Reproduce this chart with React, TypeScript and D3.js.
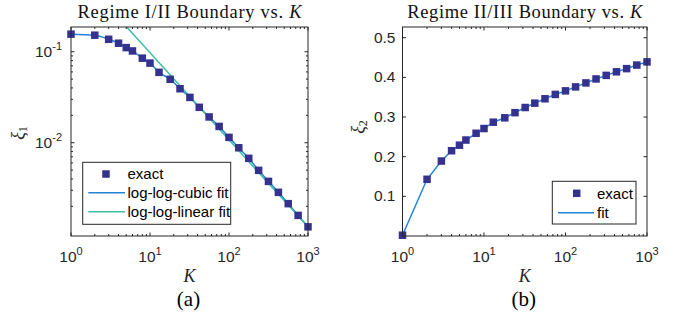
import React from "react";
import * as d3 from "d3";

// K values shared by both panels
const kValues = [1, 2, 3, 4, 5, 6, 8, 10, 13, 18, 24, 32, 42, 56, 75, 100, 133, 178, 237, 316, 422, 562, 750, 1000];

// Regime I/II boundary (xi_1), log-log
const xi1Exact = [0.156, 0.152, 0.137, 0.124, 0.111, 0.102, 0.085, 0.075, 0.0594, 0.0498, 0.0392, 0.0315, 0.0245, 0.0192, 0.0151, 0.01145, 0.0088, 0.00674, 0.00497, 0.00376, 0.00285, 0.00214, 0.00159, 0.00119];
// log-log-linear fit: straight line end points
const linFitK = [5.07, 1000];
const linFitXi = [0.187, 0.00119];

// Regime II/III boundary (xi_2)
const xi2Exact = [0.002, 0.143, 0.189, 0.215, 0.229, 0.242, 0.259, 0.271, 0.287, 0.298, 0.311, 0.324, 0.335, 0.346, 0.357, 0.366, 0.376, 0.386, 0.396, 0.405, 0.414, 0.422, 0.431, 0.439];

const xTicks = [1, 10, 100, 1000];
const xTickExp = ["0", "1", "2", "3"];
const y1Ticks = [0.1, 0.01];
const y1TickExp = ["-1", "-2"];
const y2Ticks = [0.1, 0.2, 0.3, 0.4, 0.5];

const MARKER = "#35318f";
const BLUE = "#2483d6";
const GREEN = "#3dbfa5";
const AXIS = "#262626";
const SANS = "'Liberation Sans', Arial, sans-serif";
const SERIF = "'Liberation Serif', 'Times New Roman', serif";

const minorLog = (lo: number, hi: number) => {
  const out: number[] = [];
  for (let e = Math.floor(Math.log10(lo)); e <= Math.ceil(Math.log10(hi)); e++) {
    for (let m = 2; m <= 9; m++) {
      const v = m * Math.pow(10, e);
      if (v > lo && v < hi) out.push(v);
    }
  }
  return out;
};

type Box = { x0: number; x1: number; y0: number; y1: number };

function Frame({ box, x, y, xMinor, yMajor, yMinor }: any) {
  const tl = 3.5;
  const tm = 2;
  return (
    <g stroke={AXIS} strokeWidth={1} fill="none">
      <rect x={box.x0} y={box.y0} width={box.x1 - box.x0} height={box.y1 - box.y0} />
      {xTicks.map((t) => (
        <g key={"xt" + t}>
          <line x1={x(t)} x2={x(t)} y1={box.y1} y2={box.y1 - tl} />
          <line x1={x(t)} x2={x(t)} y1={box.y0} y2={box.y0 + tl} />
        </g>
      ))}
      {xMinor.map((t: number) => (
        <g key={"xm" + t}>
          <line x1={x(t)} x2={x(t)} y1={box.y1} y2={box.y1 - tm} />
          <line x1={x(t)} x2={x(t)} y1={box.y0} y2={box.y0 + tm} />
        </g>
      ))}
      {yMajor.map((t: number) => (
        <g key={"yt" + t}>
          <line x1={box.x0} x2={box.x0 + tl} y1={y(t)} y2={y(t)} />
          <line x1={box.x1} x2={box.x1 - tl} y1={y(t)} y2={y(t)} />
        </g>
      ))}
      {yMinor.map((t: number) => (
        <g key={"ym" + t}>
          <line x1={box.x0} x2={box.x0 + tm} y1={y(t)} y2={y(t)} />
          <line x1={box.x1} x2={box.x1 - tm} y1={y(t)} y2={y(t)} />
        </g>
      ))}
    </g>
  );
}

function XLabels({ box, x, letter }: any) {
  const cx = (box.x0 + box.x1) / 2;
  return (
    <g>
      {xTicks.map((t, i) => (
        <text key={t} x={x(t)} y={262} textAnchor="middle" fontFamily={SANS} fontSize={15.5} fill={AXIS}>
          10<tspan dy={-7} fontSize={11}>{xTickExp[i]}</tspan>
        </text>
      ))}
      <text x={cx} y={282} textAnchor="middle" fontFamily={SERIF} fontStyle="italic" fontSize={18} fill={AXIS}>K</text>
      <text x={cx - 1} y={306} textAnchor="middle" fontFamily={SERIF} fontSize={21} fill="#000">({letter})</text>
    </g>
  );
}

function Markers({ xs, ys }: { xs: number[]; ys: number[] }) {
  const s = 7.5;
  return (
    <g fill={MARKER}>
      {xs.map((px, i) => (
        <rect key={i} x={px - s / 2} y={ys[i] - s / 2} width={s} height={s} />
      ))}
    </g>
  );
}

export default function App() {
  const boxA: Box = { x0: 71, x1: 308, y0: 27, y1: 236 };
  const boxB: Box = { x0: 402.5, x1: 647, y0: 27, y1: 236 };

  const xA = d3.scaleLog().domain([1, 1000]).range([boxA.x0, boxA.x1]);
  const yA = d3.scaleLog().domain([0.000944, 0.187]).range([boxA.y1, boxA.y0]);
  const xB = d3.scaleLog().domain([1, 1000]).range([boxB.x0, boxB.x1]);
  const yB = d3.scaleLinear().domain([0, 0.527]).range([boxB.y1, boxB.y0]);

  const xMinor = minorLog(1, 1000);
  const yAMinor = minorLog(0.001, 0.187).filter((v) => v > 0.0011);

  const cubicLine = d3
    .line<number>()
    .x((_, i) => xA(kValues[i]))
    .y((d) => yA(d))
    .curve(d3.curveMonotoneX);
  const linLine = d3
    .line<number>()
    .x((_, i) => xA(linFitK[i]))
    .y((d) => yA(d));
  const fitB = d3
    .line<number>()
    .x((_, i) => xB(kValues[i]))
    .y((d) => yB(d));

  return (
    <svg width={685} height={320} style={{ position: "absolute", left: 0, top: 0, background: "#fff" }}>
      <defs>
        <clipPath id="clipA">
          <rect x={boxA.x0} y={boxA.y0} width={boxA.x1 - boxA.x0} height={boxA.y1 - boxA.y0} />
        </clipPath>
      </defs>

      {/* panel (a) */}
      <text x={(boxA.x0 + boxA.x1) / 2} y={18} textAnchor="middle" fontFamily={SERIF} fontSize={18.5} fill="#111" textLength={224} lengthAdjust="spacing">
        Regime I/II Boundary vs. <tspan fontStyle="italic">K</tspan>
      </text>
      <g clipPath="url(#clipA)">
        <path d={cubicLine(xi1Exact) || ""} fill="none" stroke={BLUE} strokeWidth={1.5} />
        <path d={linLine(linFitXi) || ""} fill="none" stroke={GREEN} strokeWidth={1.5} />
      </g>
      <Markers xs={kValues.map((k) => xA(k))} ys={xi1Exact.map((v) => yA(v))} />
      <Frame box={boxA} x={xA} y={yA} xMinor={xMinor} yMajor={y1Ticks} yMinor={yAMinor} />
      {y1Ticks.map((t, i) => (
        <text key={t} x={boxA.x0 - 9} y={yA(t) + 5} textAnchor="end" fontFamily={SANS} fontSize={15.5} fill={AXIS}>
          10<tspan dy={-7} fontSize={11}>{y1TickExp[i]}</tspan>
        </text>
      ))}
      <text transform={`translate(24,133) rotate(-90)`} textAnchor="middle" fontFamily={SERIF} fontStyle="italic" fontSize={18} fill={AXIS}>
        ξ<tspan dy={3} fontSize={12} fontStyle="normal">1</tspan>
      </text>
      <XLabels box={boxA} x={xA} letter="a" />
      <g>
        <rect x={82.7} y={162.3} width={148} height={62} fill="#fff" stroke={AXIS} strokeWidth={1} />
        <rect x={106 - 3.75} y={174 - 3.75} width={7.5} height={7.5} fill={MARKER} />
        <text x={127.5} y={179} fontFamily={SANS} fontSize={15} fill="#000">exact</text>
        <line x1={88.3} x2={125} y1={192.7} y2={192.7} stroke={BLUE} strokeWidth={1.5} />
        <text x={127.5} y={198} fontFamily={SANS} fontSize={15} fill="#000">log-log-cubic fit</text>
        <line x1={88.3} x2={125} y1={211.7} y2={211.7} stroke={GREEN} strokeWidth={1.5} />
        <text x={127.5} y={217} fontFamily={SANS} fontSize={15} fill="#000">log-log-linear fit</text>
      </g>

      {/* panel (b) */}
      <text x={(boxB.x0 + boxB.x1) / 2} y={18} textAnchor="middle" fontFamily={SERIF} fontSize={18.5} fill="#111" textLength={235} lengthAdjust="spacing">
        Regime II/III Boundary vs. <tspan fontStyle="italic">K</tspan>
      </text>
      <path d={fitB(xi2Exact) || ""} fill="none" stroke={BLUE} strokeWidth={1.5} />
      <Markers xs={kValues.map((k) => xB(k))} ys={xi2Exact.map((v) => yB(v))} />
      <Frame box={boxB} x={xB} y={yB} xMinor={xMinor} yMajor={y2Ticks} yMinor={[]} />
      {y2Ticks.map((t) => (
        <text key={t} x={boxB.x0 - 7} y={yB(t) + 5} textAnchor="end" fontFamily={SANS} fontSize={15.5} fill={AXIS}>
          {t.toFixed(1)}
        </text>
      ))}
      <text transform={`translate(364,127) rotate(-90)`} textAnchor="middle" fontFamily={SERIF} fontStyle="italic" fontSize={18} fill={AXIS}>
        ξ<tspan dy={3} fontSize={12} fontStyle="normal">2</tspan>
      </text>
      <XLabels box={boxB} x={xB} letter="b" />
      <g>
        <rect x={552.3} y={181.3} width={83.7} height={42.7} fill="#fff" stroke={AXIS} strokeWidth={1} />
        <rect x={576.7 - 3.75} y={193.3 - 3.75} width={7.5} height={7.5} fill={MARKER} />
        <text x={597} y={198.5} fontFamily={SANS} fontSize={15} fill="#000">exact</text>
        <line x1={558} x2={594} y1={212.7} y2={212.7} stroke={BLUE} strokeWidth={1.5} />
        <text x={597} y={218} fontFamily={SANS} fontSize={15} fill="#000">fit</text>
      </g>
    </svg>
  );
}
